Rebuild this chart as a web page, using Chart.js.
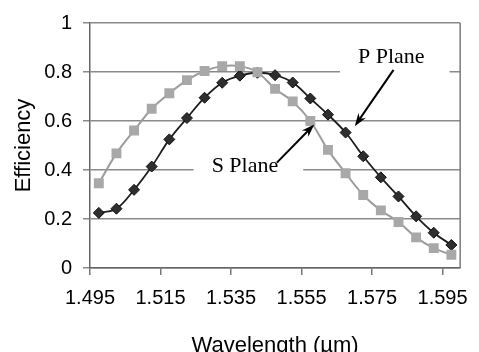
<!DOCTYPE html>
<html>
<head>
<meta charset="utf-8">
<script src="https://cdn.jsdelivr.net/npm/chart.js@4/dist/chart.umd.min.js"></script>
<style>
  body { margin: 0; background: #fff; }
  canvas { display: block; }
</style>
</head>
<body>
<canvas id="grafico" width="479" height="352"></canvas>
<script>
// Wavelength (um) at the centre of each category
const wavelengths = [1.4975, 1.5025, 1.5075, 1.5125, 1.5175, 1.5225, 1.5275, 1.5325, 1.5375, 1.5425, 1.5475,
                     1.5525, 1.5575, 1.5625, 1.5675, 1.5725, 1.5775, 1.5825, 1.5875, 1.5925, 1.5975];
const sPlane = [0.346, 0.468, 0.561, 0.650, 0.713, 0.767, 0.804, 0.824, 0.824, 0.799, 0.731,
                0.680, 0.600, 0.482, 0.387, 0.298, 0.235, 0.188, 0.125, 0.081, 0.054];
const pPlane = [0.225, 0.242, 0.319, 0.414, 0.525, 0.612, 0.695, 0.756, 0.785, 0.797, 0.787,
                0.757, 0.692, 0.626, 0.553, 0.456, 0.370, 0.292, 0.211, 0.144, 0.094];
const xTickLabels = ['1.495', '1.515', '1.535', '1.555', '1.575', '1.595'];

// text labels with arrows (data coordinates)
const planeLabels = [
    { text: 'P Plane', x: 1.5710, y: 0.835, from: [1.5811, 0.8085], to: [1.5701, 0.579] },
    { text: 'S Plane', x: 1.5295, y: 0.390, from: [1.5480, 0.430], to: [1.5586, 0.586] }
];

function toPoints(values) {
    return values.map((v, i) => ({ x: wavelengths[i], y: v }));
}

function drawArrow(ctx, x1, y1, x2, y2) {
    const a = Math.atan2(y2 - y1, x2 - x1);
    const len = 13, half = 4.5;
    ctx.beginPath();
    ctx.moveTo(x1, y1);
    ctx.lineTo(x2 - Math.cos(a) * len * 0.7, y2 - Math.sin(a) * len * 0.7);
    ctx.stroke();
    ctx.beginPath();
    ctx.moveTo(x2, y2);
    ctx.lineTo(x2 - len * Math.cos(a) + half * Math.sin(a), y2 - len * Math.sin(a) - half * Math.cos(a));
    ctx.lineTo(x2 - len * 0.7 * Math.cos(a), y2 - len * 0.7 * Math.sin(a));
    ctx.lineTo(x2 - len * Math.cos(a) - half * Math.sin(a), y2 - len * Math.sin(a) + half * Math.cos(a));
    ctx.closePath();
    ctx.fill();
}

const planePlugin = {
    id: 'planeLabels',
    beforeDatasetsDraw(chart) {
        const { ctx, chartArea, scales } = chart;
        ctx.save();
        ctx.font = '22px "Liberation Serif"';
        ctx.fillStyle = '#fff';
        planeLabels.forEach(l => {
            const px = scales.x.getPixelForValue(l.x);
            const py = scales.y.getPixelForValue(l.y);
            const w = ctx.measureText(l.text).width;
            ctx.fillRect(px - 18, py - 24, w + 43, 36);
        });
        // right side of the frame
        ctx.strokeStyle = '#7a7a7a';
        ctx.lineWidth = 1.5;
        ctx.beginPath();
        ctx.moveTo(chartArea.right, chartArea.top);
        ctx.lineTo(chartArea.right, chartArea.bottom);
        ctx.stroke();
        ctx.restore();
    },
    afterDatasetsDraw(chart) {
        const { ctx, scales } = chart;
        ctx.save();
        ctx.font = '22px "Liberation Serif"';
        ctx.fillStyle = '#000';
        ctx.strokeStyle = '#000';
        ctx.lineWidth = 2;
        ctx.textBaseline = 'alphabetic';
        planeLabels.forEach(l => {
            ctx.fillText(l.text, scales.x.getPixelForValue(l.x), scales.y.getPixelForValue(l.y));
            drawArrow(ctx,
                scales.x.getPixelForValue(l.from[0]), scales.y.getPixelForValue(l.from[1]),
                scales.x.getPixelForValue(l.to[0]), scales.y.getPixelForValue(l.to[1]));
        });
        ctx.restore();
    }
};

const ctx = document.getElementById('grafico').getContext('2d');
new Chart(ctx, {
    type: 'line',
    data: {
        datasets: [{
            label: 'S Plane',
            data: toPoints(sPlane),
            borderColor: '#9c9c9c',
            borderWidth: 2,
            backgroundColor: '#a8a8a8',
            pointStyle: 'rect',
            pointRadius: 7,
            pointBorderWidth: 0,
            tension: 0.35
        }, {
            label: 'P Plane',
            data: toPoints(pPlane),
            borderColor: '#1e1e1e',
            borderWidth: 1.8,
            backgroundColor: '#2e2e2e',
            pointBorderColor: '#111',
            pointStyle: 'rectRot',
            pointRadius: 5.5,
            pointBorderWidth: 1,
            tension: 0.35
        }]
    },
    options: {
        responsive: false,
        animation: false,
        layout: { padding: { left: 0, right: 9, top: 21, bottom: 0 } },
        plugins: {
            legend: { display: false },
            tooltip: { enabled: false }
        },
        scales: {
            x: {
                type: 'linear',
                min: 1.495,
                max: 1.600,
                afterBuildTicks: scale => {
                    scale.ticks = xTickLabels.map(t => ({ value: parseFloat(t) }));
                },
                afterFit: scale => { scale.height = 84; },
                grid: { drawOnChartArea: false, drawTicks: true, tickLength: 7, color: '#777', lineWidth: 1.5 },
                border: { color: '#666', width: 1.5 },
                ticks: {
                    callback: (value, index) => xTickLabels[index],
                    color: '#000',
                    padding: 11,
                    maxRotation: 0,
                    autoSkip: false,
                    font: { family: '"Liberation Sans", Arial', size: 20 }
                },
                title: {
                    display: true,
                    text: 'Wavelength (µm)',
                    color: '#000',
                    padding: { top: 0, bottom: -7 },
                    font: { family: '"Liberation Sans", Arial', size: 22 }
                }
            },
            y: {
                min: 0,
                max: 1,
                afterFit: scale => { scale.width = 90; },
                grid: { color: '#8a8a8a', lineWidth: 1.5, tickLength: 7 },
                border: { color: '#666', width: 1.5 },
                ticks: {
                    stepSize: 0.2,
                    callback: value => String(+value.toFixed(1)),
                    color: '#000',
                    padding: 11,
                    font: { family: '"Liberation Sans", Arial', size: 20 }
                },
                title: {
                    display: true,
                    text: 'Efficiency',
                    color: '#000',
                    padding: { top: 11, bottom: 0 },
                    font: { family: '"Liberation Sans", Arial', size: 22 }
                }
            }
        }
    },
    plugins: [planePlugin]
});
</script>
</body>
</html>
